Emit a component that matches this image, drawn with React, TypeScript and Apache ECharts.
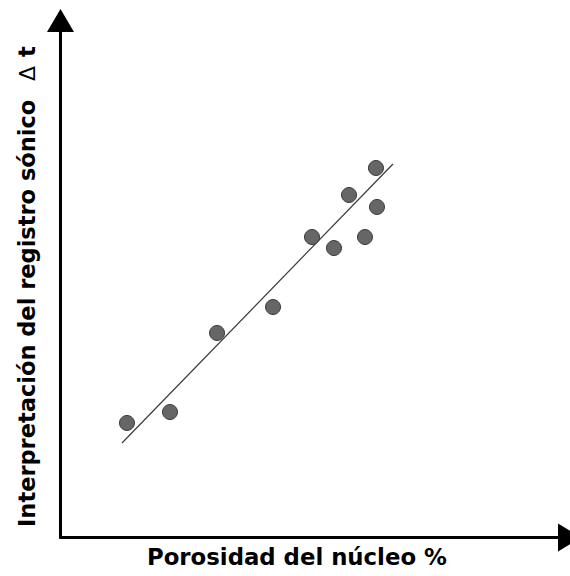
import React, { useEffect, useRef } from "react";
import * as echarts from "echarts";

const porosity = [13.06, 21.51, 30.75, 41.75, 49.41, 53.73, 56.68, 59.82, 61.98, 62.18];
const sonic = [22.15, 24.27, 39.56, 44.58, 58.12, 55.99, 66.25, 58.12, 71.47, 63.93];
const trendX = [12.08, 65.32];
const trendY = [18.28, 72.24];
const xTitle = "Porosidad del núcleo %";
const yTitleMain = "Interpretación del registro sónico";
const yTitleSym = "Δ";
const yTitleVar = "t";

export default function App() {
  const ref = useRef<HTMLDivElement>(null);
  useEffect(() => {
    if (!ref.current) return;
    const chart = echarts.init(ref.current, null, { renderer: "svg" });
    const font = "DejaVu Sans";
    chart.setOption({
      animation: false,
      backgroundColor: "#ffffff",
      grid: { left: 60.5, right: 0.5, top: 20.5, bottom: 38.5 },
      xAxis: {
        type: "value",
        min: 0,
        max: 100,
        axisLine: {
          show: true,
          symbol: ["none", "triangle"],
          symbolSize: [28, 23],
          lineStyle: { color: "#000", width: 3 },
        },
        axisTick: { show: false },
        axisLabel: { show: false },
        splitLine: { show: false },
      },
      yAxis: {
        type: "value",
        min: 0,
        max: 100,
        axisLine: {
          show: true,
          symbol: ["none", "triangle"],
          symbolSize: [27, 23],
          lineStyle: { color: "#000", width: 3 },
        },
        axisTick: { show: false },
        axisLabel: { show: false },
        splitLine: { show: false },
      },
      series: [
        {
          type: "line",
          data: trendX.map((x, i) => [x, trendY[i]]),
          symbol: "none",
          lineStyle: { color: "#3a3a3a", width: 1.2 },
          z: 1,
        },
        {
          type: "scatter",
          data: porosity.map((x, i) => [x, sonic[i]]),
          symbol: "circle",
          symbolSize: 15,
          itemStyle: { color: "#666666", borderColor: "#3a3a3a", borderWidth: 1, opacity: 1 },
          z: 2,
        },
      ],
      graphic: [
        {
          type: "text",
          left: 147,
          top: 545,
          style: {
            text: xTitle,
            font: `bold 22.8px "${font}"`,
            fill: "#000",
          },
        },
        {
          type: "text",
          x: 27,
          y: 527,
          rotation: Math.PI / 2,
          style: {
            text: yTitleMain,
            textAlign: "left",
            verticalAlign: "middle",
            font: `bold 22.5px "${font}"`,
            fill: "#000",
          },
        },
        {
          type: "text",
          x: 27,
          y: 81,
          rotation: Math.PI / 2,
          style: {
            text: yTitleSym,
            textAlign: "left",
            verticalAlign: "middle",
            font: `22px "${font}"`,
            fill: "#000",
          },
        },
        {
          type: "text",
          x: 27,
          y: 57,
          rotation: Math.PI / 2,
          style: {
            text: yTitleVar,
            textAlign: "left",
            verticalAlign: "middle",
            font: `bold 22.5px "${font}"`,
            fill: "#000",
          },
        },
      ],
    });
    return () => chart.dispose();
  }, []);
  return (
    <div
      ref={ref}
      style={{ position: "fixed", left: 0, top: 0, width: 570, height: 576 }}
    />
  );
}
